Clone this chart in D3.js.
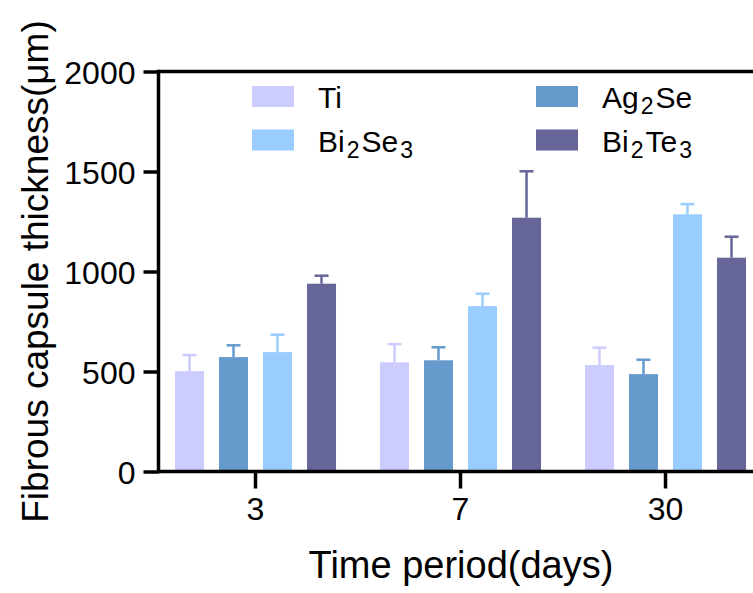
<!DOCTYPE html>
<html>
<head>
<meta charset="utf-8">
<script src="https://cdn.jsdelivr.net/npm/d3@7"></script>
<style>
    body { margin: 0; background: #fff; }
    svg text { font-family: Arial, "Liberation Sans", sans-serif; fill: #000; }
</style>
</head>
<body>
<div id="chart"></div>
<script>
// time points (days)
var groups = ["3", "7", "30"];
var seriesNames = ["Ti", "Ag2Se", "Bi2Se3", "Bi2Te3"];
var seriesColors = ["#ccccff", "#6699cc", "#99ccff", "#666699"];

// mean thickness and error per series, one value per time point
var tiMean = [502, 546, 532];
var tiErr = [80, 91, 87];
var ag2seMean = [572, 556, 487];
var ag2seErr = [59, 65, 72];
var bi2se3Mean = [597, 827, 1286];
var bi2se3Err = [87, 62, 51];
var bi2te3Mean = [939, 1269, 1069];
var bi2te3Err = [40, 232, 105];

var yTicks = [0, 500, 1000, 1500, 2000];

var means = [tiMean, ag2seMean, bi2se3Mean, bi2te3Mean];
var errs = [tiErr, ag2seErr, bi2se3Err, bi2te3Err];

var width = 753, height = 593;
var axisX = 158.5;

var svg = d3.select("#chart").append("svg")
    .attr("width", width)
    .attr("height", height);

var y = d3.scaleLinear().domain([0, 2000]).range([471.5, 71.5]);

// the plot is cut off on the right, the last group runs past the edge
var x0 = d3.scaleBand().domain(groups).range([153, 768]).padding(0);
var x1 = d3.scaleBand().domain(seriesNames).range([-88, 88])
    .paddingInner(0.341).paddingOuter(0.17);

// build rows for drawing
var rows = [];
seriesNames.forEach(function (name, si){
    groups.forEach(function (g, gi){
        rows.push({ series: name, color: seriesColors[si], group: g,
            value: means[si][gi], err: errs[si][gi] });
    });
});

function barX(d){
    return x0(d.group) + x0.bandwidth() / 2 + x1(d.series);
}

// error bars (upper only, drawn under the bar)
var eb = svg.append("g");
eb.selectAll("line.v").data(rows).enter().append("line")
    .attr("x1", function (d){ return barX(d) + x1.bandwidth() / 2; })
    .attr("x2", function (d){ return barX(d) + x1.bandwidth() / 2; })
    .attr("y1", function (d){ return y(d.value); })
    .attr("y2", function (d){ return y(d.value + d.err); })
    .attr("stroke", function (d){ return d.color; })
    .attr("stroke-width", 2.5);
eb.selectAll("line.c").data(rows).enter().append("line")
    .attr("x1", function (d){ return barX(d) + x1.bandwidth() / 2 - 7; })
    .attr("x2", function (d){ return barX(d) + x1.bandwidth() / 2 + 7; })
    .attr("y1", function (d){ return y(d.value + d.err); })
    .attr("y2", function (d){ return y(d.value + d.err); })
    .attr("stroke", function (d){ return d.color; })
    .attr("stroke-width", 2.5);

svg.append("g").selectAll("rect").data(rows).enter().append("rect")
    .attr("x", barX)
    .attr("y", function (d){ return y(d.value); })
    .attr("width", x1.bandwidth())
    .attr("height", function (d){ return y(0) - y(d.value); })
    .attr("fill", function (d){ return d.color; });

// y axis
var yAxis = svg.append("g")
    .attr("transform", "translate(" + axisX + ",0)")
    .call(d3.axisLeft(y).tickValues(yTicks).tickFormat(d3.format("d"))
        .tickSize(15).tickPadding(8));
yAxis.select(".domain").remove();
yAxis.selectAll(".tick line").attr("stroke", "#000").attr("stroke-width", 3.5);
yAxis.selectAll(".tick text")
    .style("font-size", "32px")
    .attr("dy", "0.36em");
svg.append("line")
    .attr("x1", axisX).attr("x2", axisX)
    .attr("y1", y(2000) - 1.75).attr("y2", y(0) + 1.75)
    .attr("stroke", "#000").attr("stroke-width", 3.5);

// top line at the 2000 level
svg.append("line")
    .attr("x1", axisX).attr("x2", width)
    .attr("y1", y(2000)).attr("y2", y(2000))
    .attr("stroke", "#000").attr("stroke-width", 3.5);

// x axis
var xAxis = svg.append("g")
    .attr("transform", "translate(0," + y(0) + ")")
    .call(d3.axisBottom(x0).tickSize(17).tickPadding(9));
xAxis.select(".domain").remove();
xAxis.selectAll(".tick line").attr("stroke", "#000").attr("stroke-width", 3.5);
xAxis.selectAll(".tick text").style("font-size", "32px");
svg.append("line")
    .attr("x1", axisX).attr("x2", width)
    .attr("y1", y(0)).attr("y2", y(0))
    .attr("stroke", "#000").attr("stroke-width", 3.5);

// axis titles
svg.append("text")
    .attr("x", 461)
    .attr("y", 578)
    .attr("text-anchor", "middle")
    .style("font-size", "38px")
    .text("Time period(days)");

svg.append("text")
    .attr("transform", "translate(48," + ((y(0) + y(2000)) / 2) + ") rotate(-90)")
    .attr("text-anchor", "middle")
    .style("font-size", "37px")
    .text("Fibrous capsule thickness(\u03bcm)");

// legend, two columns
var legendPos = [
    { name: "Ti", x: 252, y: 86 },
    { name: "Ag2Se", x: 536, y: 86 },
    { name: "Bi2Se3", x: 252, y: 129.5 },
    { name: "Bi2Te3", x: 536, y: 129.5 }
];
legendPos.forEach(function (p){
    var idx = seriesNames.indexOf(p.name);
    svg.append("rect")
        .attr("x", p.x).attr("y", p.y)
        .attr("width", 42).attr("height", 21)
        .attr("fill", seriesColors[idx]);
    var t = svg.append("text")
        .attr("x", p.x + 66)
        .attr("y", p.y + 22)
        .style("font-size", "30px");
    // digits become subscripts
    var parts = p.name.match(/[0-9]+|[^0-9]+/g);
    var shifted = false;
    parts.forEach(function (part){
        var isSub = /[0-9]/.test(part);
        var ts = t.append("tspan").text(part);
        if (isSub){
            ts.attr("dy", 6).attr("dx", 2).style("font-size", "23px");
            shifted = true;
        } else if (shifted){
            ts.attr("dy", -6).attr("dx", 2);
            shifted = false;
        }
    });
});
</script>
</body>
</html>
